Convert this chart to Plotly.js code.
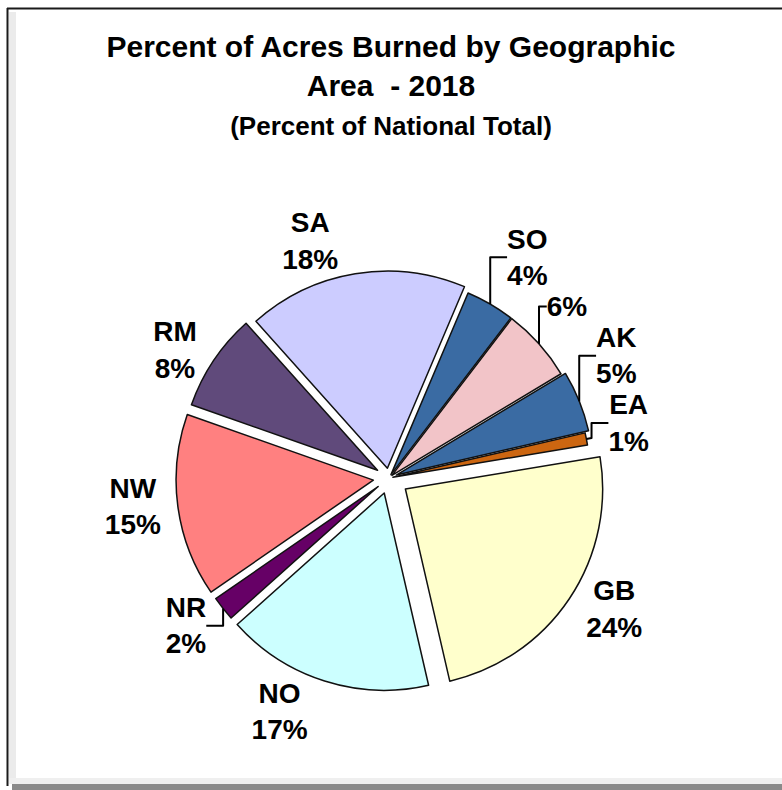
<!DOCTYPE html>
<html>
<head>
<meta charset="utf-8">
<script src="https://cdn.plot.ly/plotly-3.0.1.min.js"></script>
<style>
  html, body { margin: 0; padding: 0; background: #fff; }
  #chart { width: 782px; height: 790px; }
</style>
</head>
<body>
<div id="chart"></div>
<script>
// Geographic areas, in the order the slices run clockwise
var areas = ['AK', 'EA', 'GB', 'NO', 'NR', 'NW', 'RM', 'SA', 'SO', 'SW'];
var percents = [5, 1, 24, 17, 2, 15, 8, 18, 4, 6];
var sliceColors = ['#3a6ba3', '#cc6611', '#ffffcc', '#ccffff', '#660066',
                   '#ff8080', '#604a7b', '#ccccff', '#3a6ba3', '#f2c4c8'];
var pulls = [0.04, 0.02, 0.1, 0.08, 0.07, 0.08, 0.07, 0.05, 0.02, 0.02];
// SW only shows its percent in the original
var labelTemplates = areas.map(function(a) {
  return a === 'SW' ? '%{percent}' : '%{label}<br>%{percent}';
});

var W = 782, H = 790;
function px(x) { return x / W; }
function py(y) { return 1 - y / H; }

var trace = {
  type: 'pie',
  labels: areas,
  values: percents,
  sort: false,
  direction: 'clockwise',
  rotation: 59,
  pull: pulls,
  marker: {colors: sliceColors, line: {color: '#111', width: 1.5}},
  texttemplate: labelTemplates,
  textposition: 'outside',
  textfont: {family: 'Liberation Sans, Arial, sans-serif', size: 28, color: '#000', weight: 'bold'},
  hoverinfo: 'none',
  domain: {x: [px(172), px(606)], y: [py(695), py(261)]}
};

var frameShapes = [
  // bottom shadow bar
  {type: 'rect', xref: 'paper', yref: 'paper', x0: px(12), x1: 1, y0: py(790), y1: py(784),
   fillcolor: '#8a8a8a', line: {width: 0}, layer: 'below'},
  // inner bevel, left and bottom
  {type: 'rect', xref: 'paper', yref: 'paper', x0: px(9), x1: px(16), y0: py(783), y1: py(12),
   fillcolor: '#ebebeb', line: {width: 0}, layer: 'below'},
  {type: 'rect', xref: 'paper', yref: 'paper', x0: px(9), x1: 1, y0: py(784), y1: py(778),
   fillcolor: '#efefef', line: {width: 0}, layer: 'below'},
  // dark outer edge, left and top
  {type: 'line', xref: 'paper', yref: 'paper', x0: px(7.5), x1: px(7.5), y0: py(786), y1: py(8),
   line: {color: '#1a1a1a', width: 2}},
  {type: 'line', xref: 'paper', yref: 'paper', x0: px(7), x1: 1, y0: py(8.5), y1: py(8.5),
   line: {color: '#1a1a1a', width: 2}}
];

var layout = {
  width: W,
  height: H,
  margin: {l: 0, r: 0, t: 0, b: 0},
  paper_bgcolor: '#fff',
  showlegend: false,
  title: {
    text: 'Percent of Acres Burned by Geographic<br>Area  - 2018<br><span style="font-size:26px">(Percent of National Total)</span>',
    font: {family: 'Liberation Sans, Arial, sans-serif', size: 30, color: '#000', weight: 'bold'},
    x: 0.5,
    xanchor: 'center',
    yref: 'container',
    y: py(57),
    yanchor: 'top'
  },
  shapes: frameShapes
};

Plotly.newPlot('chart', [trace], layout, {displayModeBar: false, staticPlot: true});
</script>
</body>
</html>
